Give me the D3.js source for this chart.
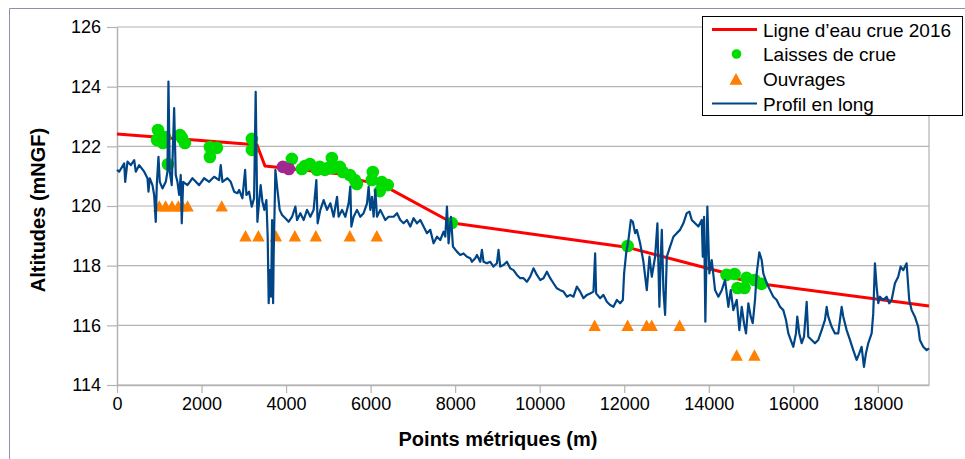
<!DOCTYPE html>
<html><head><meta charset="utf-8">
<script src="https://cdn.jsdelivr.net/npm/d3@7"></script>
<style>body{margin:0;background:#fff}svg{display:block;font-family:"Liberation Sans",Arial,sans-serif}</style>
</head><body><svg id="c" width="965" height="459"></svg>
<script>
const xTicks=[0,2000,4000,6000,8000,10000,12000,14000,16000,18000];
const yTicks=[114,116,118,120,122,124,126];
const legendLabels=["Ligne d\u2019eau crue 2016","Laisses de crue","Ouvrages","Profil en long"];
const xTitle="Points métriques (m)";
const yTitle="Altitudes (mNGF)";

// Ligne d'eau crue 2016
const ligneEau=[[0,122.41],[3310,122.05],[3500,121.34],[5510,121.04],[5630,120.9],[6290,120.7],[7940,119.43],[12060,118.62],[14330,117.78],[14530,117.77],[14650,117.57],[15200,117.4],[19210,116.65]];
// Laisses de crue
const laisses=[[969,122.55],[946,122.21],[1135,122.31],[1087,122.11],[1206,121.40],[1489,122.38],[1607,122.11],[1537,122.28],[2198,121.98],[2364,121.95],[2198,121.64],[3191,122.25],[3191,121.88],[4137,121.58],[4373,121.24],[4444,121.34],[4563,121.41],[4728,121.21],[4799,121.31],[4917,121.21],[4988,121.27],[5083,121.61],[5106,121.27],[5272,121.31],[5343,121.14],[5508,121.04],[5626,120.87],[5674,120.74],[6052,121.14],[6028,120.87],[6265,120.80],[6217,120.50],[6406,120.70],[7919,119.43],[12080,118.66],[14420,117.69],[14609,117.72],[14680,117.25],[14893,117.59],[15082,117.52],[14845,117.25],[15250,117.39]];
// Laisses (autre)
const laissesAutres=[[3924,121.31],[4066,121.24]];
// Ouvrages
const ouvrages=[[1000,120],[1150,120],[1300,120],[1450,120],[1550,120],[1670,120],[2478,120],[3040,119],[3345,119],[3759,119],[4208,119],[4704,119],[5508,119],[6146,119],[11300,116],[12080,116],[12530,116],[12650,116],[13310,116],[14660,115],[15080,115]];
// Profil en long
const profil=[[0,121.21],[52,121.15],[170,121.43],[194,120.81],[248,121.49],[326,121.37],[407,121.54],[444,121.15],[525,121.37],[643,121.15],[721,120.93],[745,120.48],[775,120.93],[839,120.70],[879,120.37],[917,119.47],[941,120.70],[981,121.65],[1012,120.81],[1076,120.59],[1154,120.81],[1194,121.15],[1217,124.17],[1248,121.15],[1295,120.70],[1352,123.28],[1390,121.04],[1430,120.81],[1470,120.37],[1508,121.04],[1532,119.42],[1565,120.81],[1667,120.70],[1785,120.93],[1943,120.70],[2061,120.93],[2180,120.81],[2298,120.98],[2416,120.87],[2454,121.37],[2494,120.81],[2612,120.93],[2690,120.81],[2771,120.48],[2849,120.43],[2889,120.54],[2967,120.26],[3031,121.21],[3061,120.37],[3125,120.48],[3187,119.98],[3243,120.26],[3281,123.83],[3321,119.47],[3362,120.14],[3399,120.70],[3440,120.14],[3487,119.87],[3534,120.20],[3565,118.97],[3589,116.74],[3612,117.85],[3645,116.96],[3669,119.53],[3693,116.74],[3707,118.41],[3747,121.21],[3787,120.65],[3849,119.87],[3905,119.70],[3983,119.59],[4061,119.47],[4142,119.64],[4220,119.98],[4260,119.53],[4338,119.76],[4416,119.53],[4496,119.87],[4574,119.64],[4652,119.87],[4716,120.87],[4747,119.42],[4811,119.87],[4889,120.20],[4969,119.87],[5047,120.09],[5125,119.64],[5206,120.31],[5243,119.64],[5324,119.87],[5402,119.64],[5480,120.09],[5520,120.65],[5544,119.31],[5598,119.64],[5678,119.87],[5756,119.64],[5834,119.76],[5915,120.09],[5953,120.65],[5993,119.87],[6033,120.31],[6071,119.64],[6111,120.54],[6151,119.64],[6229,119.87],[6347,119.53],[6425,119.64],[6544,119.64],[6624,119.76],[6702,119.53],[6780,119.42],[6860,119.53],[6938,119.31],[7016,119.59],[7097,119.42],[7175,119.53],[7253,119.31],[7333,119.09],[7411,119.20],[7489,118.75],[7570,118.97],[7648,118.86],[7726,119.14],[7766,118.97],[7806,119.98],[7844,118.75],[7901,119.64],[7948,118.64],[8042,118.47],[8120,118.36],[8198,118.41],[8279,118.30],[8357,118.25],[8397,118.13],[8475,118.25],[8515,118.36],[8553,118.25],[8593,118.13],[8633,118.53],[8671,118.13],[8751,118.08],[8830,118.13],[8907,117.97],[8988,118.08],[9026,118.53],[9066,117.97],[9144,118.02],[9224,118.13],[9302,117.91],[9380,117.85],[9461,117.69],[9539,117.58],[9617,117.58],[9697,117.46],[9775,117.63],[9853,117.91],[9934,117.69],[10012,117.52],[10090,117.58],[10170,117.80],[10248,117.58],[10326,117.41],[10406,117.24],[10484,117.18],[10562,117.13],[10643,116.96],[10721,117.02],[10799,116.96],[10879,117.30],[10957,117.13],[11035,116.91],[11116,117.02],[11194,117.07],[11272,117.13],[11312,118.41],[11335,117.07],[11430,116.91],[11508,117.02],[11589,116.79],[11666,116.68],[11744,116.62],[11825,116.85],[11903,116.74],[11967,116.85],[11997,117.74],[12045,118.41],[12099,118.86],[12156,119.53],[12203,119.47],[12257,119.09],[12298,119.20],[12376,118.75],[12454,118.13],[12534,117.18],[12596,118.30],[12652,117.63],[12730,118.30],[12785,119.42],[12832,116.62],[12865,118.30],[12889,119.20],[12927,117.18],[12967,116.35],[13007,118.30],[13085,118.64],[13163,118.97],[13243,119.09],[13321,119.20],[13399,119.42],[13479,119.76],[13541,119.81],[13598,119.53],[13676,119.42],[13754,119.31],[13834,119.53],[13858,118.30],[13889,119.64],[13919,116.12],[13966,119.98],[14014,117.74],[14070,118.19],[14149,117.18],[14227,116.96],[14307,117.18],[14385,117.52],[14463,116.62],[14520,117.18],[14581,116.51],[14662,116.85],[14723,115.84],[14780,116.62],[14834,116.07],[14881,115.73],[14936,116.74],[14993,116.29],[15040,116.07],[15094,116.85],[15134,117.74],[15196,118.45],[15252,118.19],[15290,117.74],[15371,117.41],[15449,117.18],[15527,116.96],[15607,116.85],[15685,116.62],[15763,116.51],[15827,116.18],[15882,115.73],[15938,115.51],[16000,115.28],[16063,115.73],[16094,116.29],[16141,115.73],[16198,115.40],[16253,115.62],[16316,116.79],[16354,115.62],[16434,115.51],[16512,115.40],[16590,115.51],[16671,115.84],[16749,116.18],[16789,116.62],[16827,116.29],[16907,115.95],[16985,115.73],[17063,115.73],[17144,116.62],[17182,116.29],[17262,115.84],[17340,115.51],[17418,115.17],[17498,114.84],[17560,115.06],[17616,115.28],[17671,114.61],[17718,115.06],[17773,115.40],[17853,115.73],[17891,116.40],[17931,118.08],[17971,117.30],[18010,116.74],[18049,116.96],[18127,116.85],[18208,116.96],[18269,116.74],[18326,116.85],[18404,117.41],[18482,117.63],[18539,117.97],[18600,117.85],[18680,118.08],[18742,116.85],[18799,116.51],[18876,116.29],[18955,115.95],[18994,115.51],[19073,115.28],[19153,115.17],[19210,115.23]];

const C={red:"#ff0000",green:"#00dc00",orange:"#ff8000",blue:"#004586",purple:"#a1288e",grid:"#b3b3b3",frame:"#8d90b3"};
const FONT='"Liberation Sans",Arial,sans-serif';
const svg=d3.select("#c");
const x=d3.scaleLinear().domain([0,19210]).range([117,929]);
const y=d3.scaleLinear().domain([114,126]).range([385,27]);

svg.append("path").attr("d","M9.5,470V8.5H990").attr("fill","none").attr("stroke",C.frame);

// grid
svg.append("g").selectAll("line").data(yTicks).join("line")
  .attr("x1",x(0)).attr("x2",x(19210)).attr("y1",d=>y(d)).attr("y2",d=>y(d))
  .attr("stroke",C.grid).attr("stroke-width",1.2);
svg.append("line").attr("x1",x(19210)).attr("x2",x(19210)).attr("y1",y(126)).attr("y2",y(114)).attr("stroke",C.grid).attr("stroke-width",1.2);

const gx=svg.append("g").attr("transform",`translate(0,${y(114)})`)
  .call(d3.axisBottom(x).tickValues(xTicks).tickSize(8).tickSizeOuter(0).tickPadding(4).tickFormat(d3.format("d")));
const gy=svg.append("g").attr("transform",`translate(${x(0)},0)`)
  .call(d3.axisLeft(y).tickValues(yTicks).tickSize(10).tickSizeOuter(0).tickPadding(6).tickFormat(d3.format("d")));
[gx,gy].forEach(g=>{
  g.attr("font-family",FONT).attr("font-size",18);
  g.select(".domain").attr("stroke",C.grid).attr("stroke-width",1.5);
  g.selectAll(".tick line").attr("stroke",C.grid).attr("stroke-width",1.2);
  g.selectAll(".tick text").attr("fill","#000");
});

svg.append("text").attr("x",498).attr("y",446).attr("text-anchor","middle")
  .attr("font-family",FONT).attr("font-size",20).attr("font-weight","bold").text(xTitle);
svg.append("text").attr("transform","translate(45,210) rotate(-90)").attr("text-anchor","middle")
  .attr("font-family",FONT).attr("font-size",20).attr("font-weight","bold").text(yTitle);

const line=d3.line().x(d=>x(d[0])).y(d=>y(d[1]));
svg.append("path").datum(ligneEau).attr("d",line).attr("fill","none").attr("stroke",C.red).attr("stroke-width",3).attr("stroke-linejoin","round");

svg.append("g").selectAll("circle").data(laisses).join("circle")
  .attr("cx",d=>x(d[0])).attr("cy",d=>y(d[1])).attr("r",6.3).attr("fill",C.green);
svg.append("g").selectAll("circle").data(laissesAutres).join("circle")
  .attr("cx",d=>x(d[0])).attr("cy",d=>y(d[1])).attr("r",6.3).attr("fill",C.purple);

const tri="M0,-5.8L6.2,5.6L-6.2,5.6Z";
svg.append("g").selectAll("path").data(ouvrages).join("path")
  .attr("transform",d=>`translate(${x(d[0])},${y(d[1])})`).attr("d",tri).attr("fill",C.orange);

svg.append("path").datum(profil).attr("d",line).attr("fill","none").attr("stroke",C.blue).attr("stroke-width",2.2).attr("stroke-linejoin","round");

// legend
const lg=svg.append("g");
lg.append("rect").attr("x",702.5).attr("y",16.5).attr("width",260).attr("height",99).attr("fill","#fff").attr("stroke","#000");
const rowY=[29.5,54,79,103.5];
lg.append("line").attr("x1",712).attr("x2",757).attr("y1",rowY[0]).attr("y2",rowY[0]).attr("stroke",C.red).attr("stroke-width",3);
lg.append("circle").attr("cx",736.5).attr("cy",rowY[1]).attr("r",4.8).attr("fill",C.green);
lg.append("path").attr("transform",`translate(736,${rowY[2]})`).attr("d","M0,-6L6.5,5.8L-6.5,5.8Z").attr("fill",C.orange);
lg.append("line").attr("x1",712).attr("x2",757).attr("y1",rowY[3]).attr("y2",rowY[3]).attr("stroke",C.blue).attr("stroke-width",2.2);
lg.selectAll("text").data(legendLabels).join("text")
  .attr("x",763).attr("y",(d,i)=>rowY[i]+7).attr("font-family",FONT).attr("font-size",19).attr("fill","#000").text(d=>d);
</script></body></html>
